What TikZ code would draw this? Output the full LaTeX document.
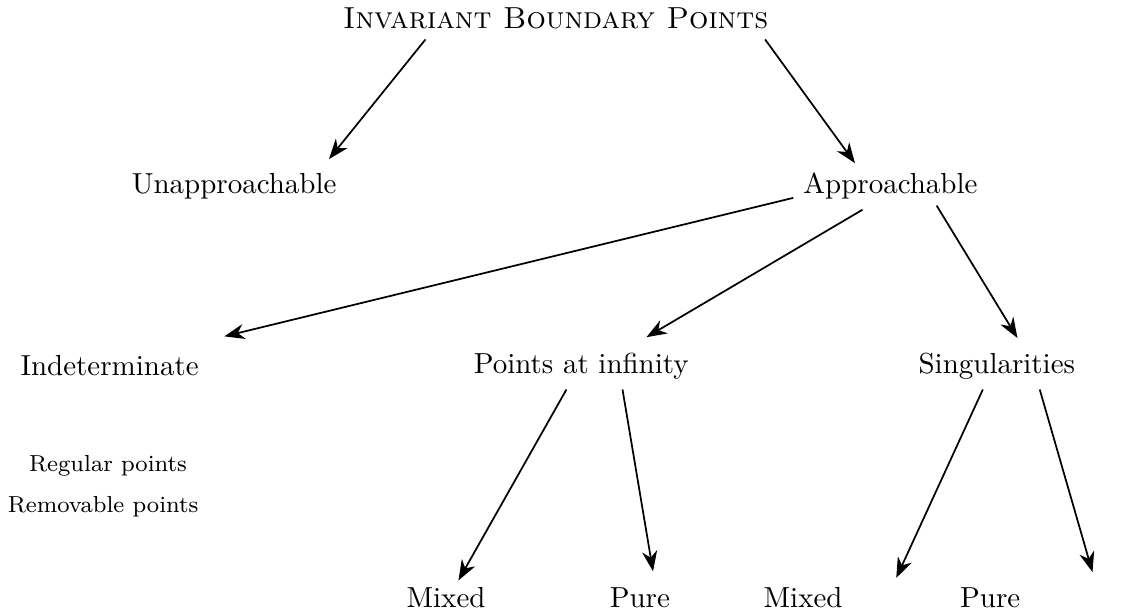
\documentclass[tikz,border=0pt]{standalone}
\usetikzlibrary{calc,arrows.meta}

\begin{document}
\begin{tikzpicture}[line join=round,arr/.style={line width=0.6pt,-{Stealth[length=7pt,width=5.2pt,inset=2.2pt]}}]
\useasboundingbox (0,0) rectangle (13.62,7.46);
\node[scale=1.05] (ibp) at (6.74,7.24) {\textsc{Invariant Boundary Points}};
\node (unapp) at (2.84,5.2) {Unapproachable};
\node (app) at (10.80,5.2) {Approachable};
\node (indet) at (1.33,3.02) {Indeterminate};
\node (pinf) at (7.05,3.02) {Points at infinity};
\node (sing) at (12.09,3.02) {Singularities};
\node (reg) at (1.31,1.81) {\footnotesize Regular points};
\node (rem) at (1.25,1.32) {\footnotesize Removable points};
\node (mixA) at (5.41,0.21) {Mixed};
\node (pureA) at (7.76,0.21) {Pure};
\node (mixB) at (9.74,0.21) {Mixed};
\node (pureB) at (12.01,0.21) {Pure};
\coordinate (tUnapp) at (3.99,5.53);
\coordinate (tApp) at (10.37,5.48);
\coordinate (tIndet) at (2.72,3.38);
\coordinate (tPinf) at (7.84,3.37);
\coordinate (tSing) at (12.34,3.36);
\coordinate (tMixA) at (5.56,0.42);
\coordinate (tPureA) at (7.92,0.53);
\coordinate (tMixB) at (10.87,0.45);
\coordinate (tPureB) at (13.25,0.52);
\foreach \n/\a/\dx/\dy/\t in {ibp/south/-1.58/0/tUnapp,ibp/south/2.54/0/tApp,app/west/0/-0.14/tIndet,app/south/-0.34/0/tPinf,app/south/0.56/0.05/tSing,pinf/south/-0.18/0/tMixA,pinf/south/0.50/0/tPureA,sing/south/-0.17/0/tMixB,sing/south/0.52/0/tPureB}{\draw[arr]($(\n.\a)+(\dx,\dy)$)--(\t);}
\end{tikzpicture}
\end{document}
